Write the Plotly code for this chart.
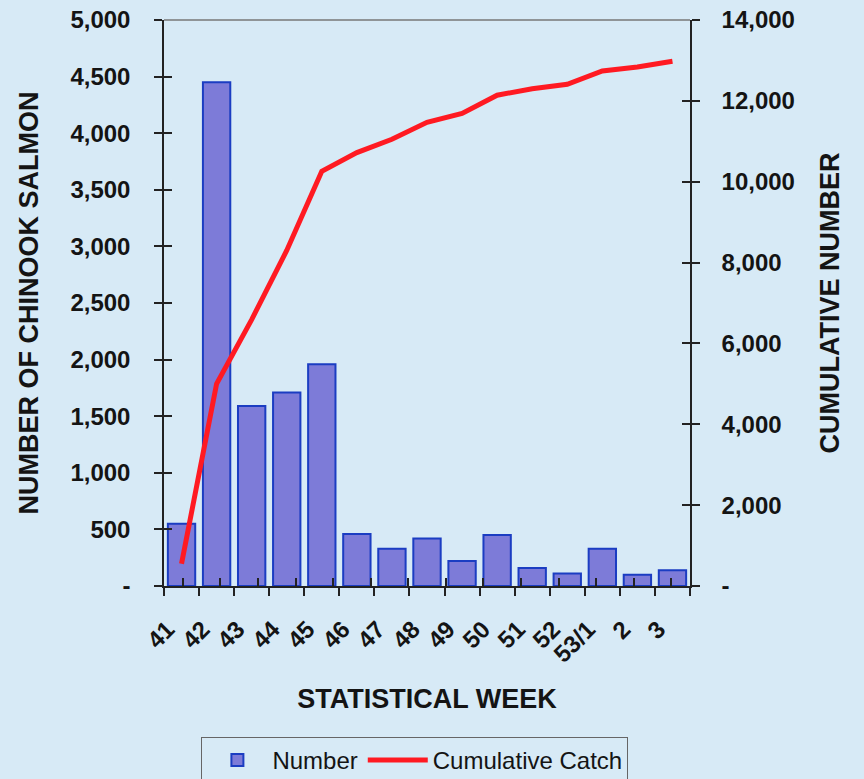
import plotly.graph_objects as go

weeks = ["41", "42", "43", "44", "45", "46", "47", "48", "49", "50", "51", "52", "53/1", "2", "3"]
number = [550, 4450, 1590, 1710, 1960, 460, 330, 420, 220, 450, 160, 110, 330, 100, 140]
cumulative = [550, 5000, 6590, 8300, 10260, 10720, 11050, 11470, 11690, 12140, 12300, 12410, 12740, 12840, 12980]

left_ticks = [0, 500, 1000, 1500, 2000, 2500, 3000, 3500, 4000, 4500, 5000]
left_text = ["-", "500", "1,000", "1,500", "2,000", "2,500", "3,000", "3,500", "4,000", "4,500", "5,000"]
right_ticks = [0, 2000, 4000, 6000, 8000, 10000, 12000, 14000]
right_text = ["-", "2,000", "4,000", "6,000", "8,000", "10,000", "12,000", "14,000"]

BG = "#d7eaf6"
FONT = "Liberation Sans, Arial, sans-serif"
INK = "#141414"
tickf = dict(family=FONT, size=24, color=INK, weight="bold")
titlef = dict(family=FONT, size=27, color=INK, weight="bold")
AX = "#222222"

fig = go.Figure()
fig.add_trace(go.Bar(
    x=weeks, y=number, name="Number",
    marker=dict(color="#7d7bd8", line=dict(color="#1b3dc2", width=2)),
    yaxis="y", xaxis="x",
))
fig.add_trace(go.Scatter(
    x=weeks, y=cumulative, name="Cumulative Catch", mode="lines",
    line=dict(color="#ff1a22", width=5),
    yaxis="y2", xaxis="x",
))
# empty helper traces so the inside-tick overlay axes get drawn
fig.add_trace(go.Scatter(x=weeks, y=[None] * len(weeks), xaxis="x2", yaxis="y3",
                         showlegend=False, hoverinfo="skip", mode="lines"))
fig.add_trace(go.Scatter(x=weeks, y=[None] * len(weeks), xaxis="x2", yaxis="y4",
                         showlegend=False, hoverinfo="skip", mode="lines"))

fig.update_layout(
    width=864, height=779,
    paper_bgcolor=BG, plot_bgcolor=BG,
    margin=dict(l=164, r=174, t=20, b=193),
    bargap=0.22,
    showlegend=True,
    legend=dict(
        orientation="h", x=0.477, xanchor="center",
        yref="container", y=0.054, yanchor="top",
        bgcolor=BG, bordercolor="#666666", borderwidth=1,
        font=dict(family=FONT, size=24, color=INK),
        traceorder="normal", itemwidth=60,
    ),
    xaxis=dict(
        type="category", tickson="boundaries", ticks="outside", ticklen=8,
        tickcolor=AX, tickwidth=1.5, automargin=False,
        showline=True, linecolor=AX, linewidth=1.5,
        showgrid=False, zeroline=False,
        tickangle=-45, tickfont=tickf, ticklabelstandoff=18, ticklabelshift=-14,
        title=dict(text="STATISTICAL WEEK", font=titlef, standoff=22),
    ),
    xaxis2=dict(
        type="category", overlaying="x", anchor="y", side="bottom",
        tickson="boundaries", ticks="inside", ticklen=8,
        tickcolor=AX, tickwidth=1.5, automargin=False,
        showticklabels=False, showgrid=False, zeroline=False, showline=False,
    ),
    yaxis=dict(
        range=[0, 5000], tickvals=left_ticks, ticktext=left_text,
        ticks="outside", ticklen=8, tickcolor=AX, tickwidth=1.5, automargin=False,
        showline=True, linecolor=AX, linewidth=1.5,
        showgrid=False, zeroline=False, tickfont=tickf,
        ticklabelstandoff=19,
        title=dict(text="NUMBER OF CHINOOK SALMON", font=titlef, standoff=24),
    ),
    yaxis2=dict(
        range=[0, 14000], tickvals=right_ticks, ticktext=right_text,
        overlaying="y", side="right", anchor="x",
        ticks="outside", ticklen=8, tickcolor=AX, tickwidth=1.5, automargin=False,
        showline=True, linecolor=AX, linewidth=1.5,
        showgrid=False, zeroline=False, tickfont=tickf,
        ticklabelstandoff=17,
        title=dict(text="CUMULATIVE NUMBER", font=titlef, standoff=26),
    ),
    yaxis3=dict(
        range=[0, 5000], tickvals=left_ticks, overlaying="y", side="left", anchor="x2",
        ticks="inside", ticklen=8, tickcolor=AX, tickwidth=1.5, automargin=False,
        showticklabels=False, showgrid=False, zeroline=False, showline=False,
    ),
    yaxis4=dict(
        range=[0, 14000], tickvals=right_ticks, overlaying="y", side="right", anchor="x2",
        ticks="inside", ticklen=8, tickcolor=AX, tickwidth=1.5, automargin=False,
        showticklabels=False, showgrid=False, zeroline=False, showline=False,
    ),
    shapes=[dict(type="line", xref="paper", yref="paper", x0=0, x1=1, y0=1, y1=1,
                 line=dict(color="#777777", width=1.5))],
)

fig.write_html(
    "out.html",
    config={"displayModeBar": False},
    post_script="document.body.style.margin='0';document.body.style.background='" + BG + "';",
)
